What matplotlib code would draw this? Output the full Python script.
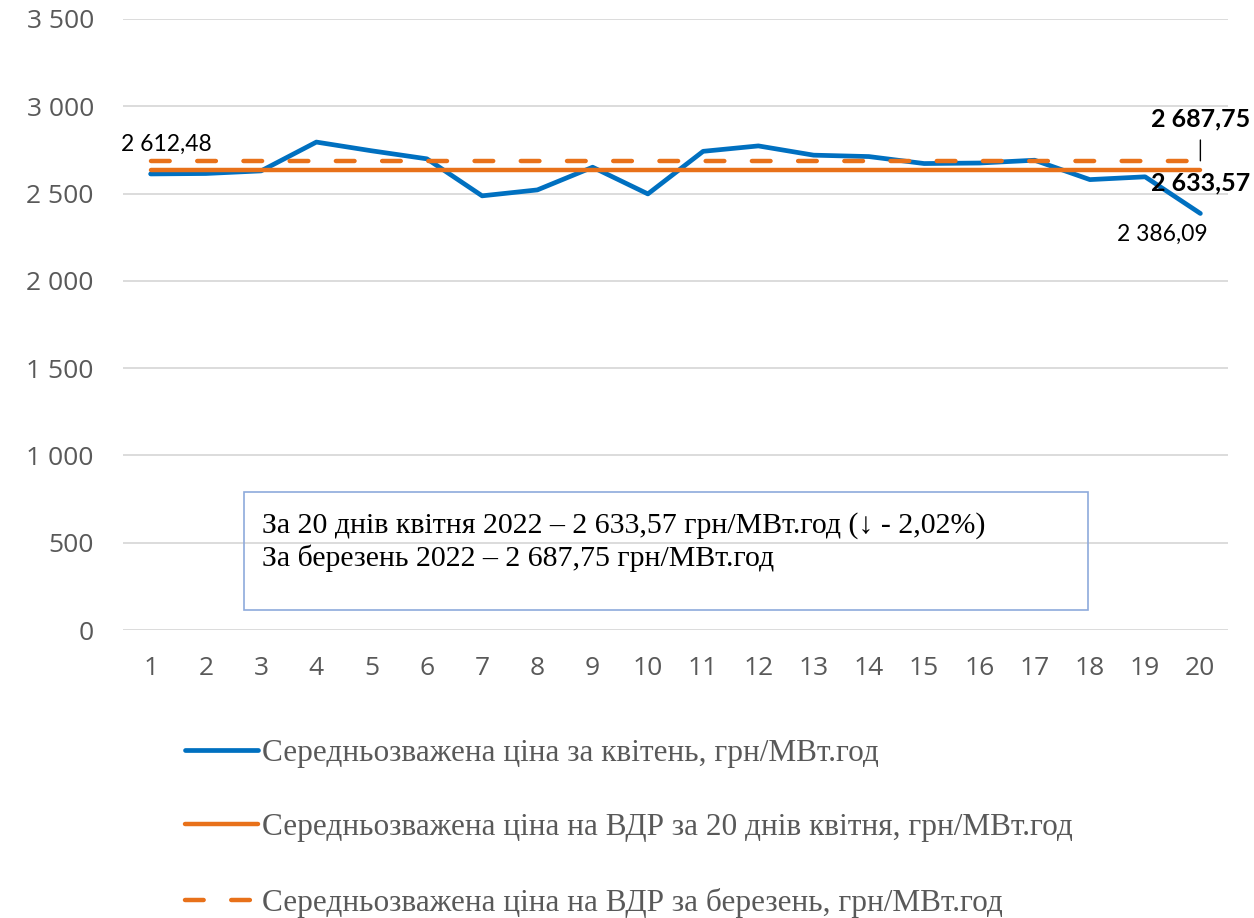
import matplotlib
matplotlib.use("Agg")
import matplotlib.pyplot as plt
from matplotlib.ticker import FuncFormatter, MultipleLocator
from matplotlib.patches import Rectangle

days = list(range(1, 21))
april_prices = [2612.48, 2615, 2630, 2795, 2745, 2699, 2487, 2521, 2651, 2498,
                2742, 2773, 2720, 2712, 2672, 2675, 2691, 2580, 2596, 2386.09]
april_avg = 2633.57
march_avg = 2687.75

label_april = "Середньозважена ціна за квітень, грн/МВт.год"
label_april_avg = "Середньозважена ціна на ВДР за 20 днів квітня, грн/МВт.год"
label_march_avg = "Середньозважена ціна на ВДР за березень, грн/МВт.год"
box_lines = ["За 20 днів квітня 2022 – 2 633,57 грн/МВт.год (↓ - 2,02%)",
             "За березень 2022 – 2 687,75 грн/МВт.год"]

BLUE = "#0070C0"
ORANGE = "#E8711A"
GRAY = "#595959"

fig = plt.figure(figsize=(12.54, 9.18), dpi=100)
ax = fig.add_axes([123/1254, 1-630/918, (1228-123)/1254, (630-19)/918])

ax.plot(days, april_prices, color=BLUE, lw=3.4, solid_capstyle="round",
        solid_joinstyle="round", label=label_april, zorder=3)
ax.plot(days, [april_avg]*len(days), color=ORANGE, lw=3.2,
        solid_capstyle="round", label=label_april_avg, zorder=4)
ax.plot(days, [march_avg]*len(days), color=ORANGE, lw=3.2,
        dashes=(4.2, 6.2), dash_capstyle="round", label=label_march_avg, zorder=4)

ax.set_xlim(0.5, 20.5)
ax.set_ylim(0, 3500)
ax.yaxis.set_major_locator(MultipleLocator(500))
ax.set_xticks(days)
ax.yaxis.set_major_formatter(FuncFormatter(lambda v, p: f"{int(v):,}".replace(",", " ")))
ax.grid(axis="y", color="#D9D9D9", lw=1.3)
ax.set_axisbelow(True)
for s in ax.spines.values():
    s.set_visible(False)
ax.tick_params(axis="both", length=0, labelsize=19, labelcolor=GRAY)
ax.tick_params(axis="y", pad=21)
ax.tick_params(axis="x", pad=19)
for lab in ax.get_xticklabels() + ax.get_yticklabels():
    lab.set_family("Open Sans")

# data labels
ax.annotate("2 612,48", (days[0], april_prices[0]), xytext=(16, 30),
            textcoords="offset pixels", ha="center", va="center",
            fontsize=16.5, family="Lato", color="black")
ax.annotate("2 386,09", (days[-1], april_prices[-1]), xytext=(-38, -21),
            textcoords="offset pixels", ha="center", va="center",
            fontsize=16.5, family="Lato", color="black")
ax.annotate("2 687,75", (days[-1], march_avg), xytext=(0, 42),
            textcoords="offset pixels", ha="center", va="center",
            fontsize=18, family="Lato", weight="bold", color="black",
            arrowprops=dict(arrowstyle="-", color="black", lw=1,
                            shrinkA=5, shrinkB=0))
ax.annotate("2 633,57", (days[-1], april_avg), xytext=(0, -13),
            textcoords="offset pixels", ha="center", va="center",
            fontsize=18, family="Lato", weight="bold", color="black", zorder=6)

# text box
fig.patches.append(Rectangle((244/1254, 1-610/918), (1088-244)/1254, (610-492)/918,
                             transform=fig.transFigure, fill=False,
                             edgecolor="#8EAADB", lw=1.2))
serif = ["Liberation Serif", "DejaVu Serif"]
fig.text(262/1254, 1-526/918, box_lines[0], family=serif, fontsize=21.5,
         color="black", va="center", ha="left")
fig.text(262/1254, 1-558/918, box_lines[1], family=serif, fontsize=21.5,
         color="black", va="center", ha="left")

leg = fig.legend(loc="upper left", bbox_to_anchor=(185/1254, 1-739/918),
                 frameon=False, prop={"family": "Liberation Serif", "size": 22.5},
                 handlelength=2.33, handletextpad=0.12, labelspacing=1.45,
                 borderaxespad=0, borderpad=0)
for t in leg.get_texts():
    t.set_color(GRAY)

fig.savefig("out.png", dpi=100)
